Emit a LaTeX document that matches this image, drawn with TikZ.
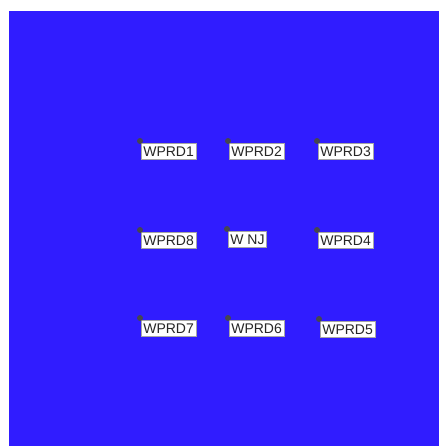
\documentclass[tikz,border=0pt]{standalone}
\usepackage{fontspec}
\setmainfont{Liberation Sans}
\definecolor{mapblue}{RGB}{48,28,255}
\definecolor{dotgray}{RGB}{70,70,80}
\tikzset{
  sitebox/.style={draw=black!35, fill=white, line width=0.6pt, inner xsep=2pt, inner ysep=0pt,
    minimum height=16pt, text height=10.5pt, text depth=0pt, anchor=north west,
    font=\fontsize{14}{14}\selectfont, text=black!85},
  sitedot/.style={fill=dotgray}
}
\begin{document}
\begin{tikzpicture}[x=1pt,y=-1pt]
\useasboundingbox (0,0) rectangle (439,446);
\fill[white] (0,0) rectangle (439,446);
\fill[mapblue] (9,11) rectangle (439,446);
\node[sitebox] (wprd1) at (141,143) {WPRD1};
\node[sitebox] (wprd2) at (229,143) {WPRD2};
\node[sitebox] (wprd3) at (318,143) {WPRD3};
\node[sitebox] (wprd8) at (141,232) {WPRD8};
\node[sitebox] (wnj) at (228,231) {W NJ};
\node[sitebox] (wprd4) at (318,232) {WPRD4};
\node[sitebox] (wprd7) at (141,320) {WPRD7};
\node[sitebox] (wprd6) at (229,320) {WPRD6};
\node[sitebox] (wprd5) at (320,321) {WPRD5};
% marker dots
\foreach \n in {wprd1,wprd2,wprd3,wprd8,wnj,wprd4,wprd7,wprd6,wprd5}
  \fill[sitedot] ([xshift=-1pt,yshift=2pt]\n.north west) circle (3pt);
\end{tikzpicture}
\end{document}
